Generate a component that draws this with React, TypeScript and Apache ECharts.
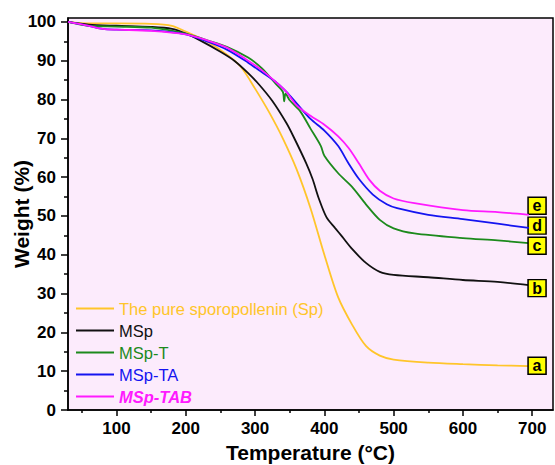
import React, { useEffect, useRef } from "react";
import * as echarts from "echarts";

const seriesNames = ["The pure sporopollenin (Sp)", "MSp", "MSp-T", "MSp-TA", "MSp-TAB"];
const seriesColors = ["#FFC52A", "#111111", "#1C8A1C", "#1414F0", "#FF1AFF"];
const endLetters = ["a", "b", "c", "d", "e"];
const endLabelX = 707;
const endLabelY = [11.4, 31.4, 42.3, 47.5, 52.6];

const spT = [30, 60, 100, 150, 180, 200, 230, 260, 280, 300, 320, 340, 360, 380, 400, 420, 440, 460, 480, 500, 550, 600, 650, 695];
const spW = [100, 99.6, 99.6, 99.5, 99, 97.5, 95, 91.5, 88.3, 82.8, 76.8, 70, 62, 52, 40, 29, 22, 16.5, 14, 13, 12.2, 11.8, 11.5, 11.3];

const mspT = [30, 60, 100, 150, 180, 200, 220, 250, 270, 290, 306, 325, 345, 355, 374, 383, 392, 403, 415, 426, 440, 460, 480, 500, 550, 600, 650, 695];
const mspW = [100, 99.3, 99, 98.7, 98.2, 97, 95.3, 92.3, 90, 86.8, 83.8, 79.6, 74, 70.6, 63.5, 59.5, 54.5, 49.7, 47, 44.6, 41.5, 37.9, 35.6, 34.8, 34.2, 33.5, 33, 32.2];

const mspTT = [30, 60, 100, 150, 200, 230, 260, 290, 310, 330, 340, 342, 344, 350, 365, 380, 395, 400, 420, 440, 460, 480, 500, 530, 600, 650, 695];
const mspTW = [100, 99, 98.8, 98.5, 97, 95.3, 93.5, 90.8, 88, 84, 82, 79.5, 81.5, 79.8, 77, 72.5, 68, 65.5, 61, 57.5, 53, 49, 46.8, 45.5, 44.3, 43.7, 43];

const mspTAT = [30, 60, 80, 100, 150, 200, 230, 260, 290, 310, 330, 345, 360, 380, 400, 420, 435, 450, 470, 490, 505, 550, 600, 650, 695];
const mspTAW = [100, 99, 98.2, 98, 97.8, 96.8, 95, 92.8, 89.5, 87, 84.5, 82, 79, 75, 72, 68, 63.5, 59.5, 55.5, 53, 52, 50.3, 49.2, 48, 46.9];

const mspTABT = [30, 60, 80, 100, 150, 200, 230, 260, 290, 310, 330, 345, 360, 380, 400, 420, 435, 450, 465, 480, 500, 530, 600, 650, 695];
const mspTABW = [100, 99, 98.2, 98, 97.7, 96.8, 95.3, 93.3, 90, 87.5, 84.5, 82, 78.5, 75.8, 73.5, 70.5, 67.5, 63.5, 59.3, 56.5, 54.5, 53.3, 51.5, 51, 50.3];

const xMajor = [100, 200, 300, 400, 500, 600, 700];
const xMinor = [50, 150, 250, 350, 450, 550, 650];
const yMajor = [0, 10, 20, 30, 40, 50, 60, 70, 80, 90, 100];
const yMinor = [5, 15, 25, 35, 45, 55, 65, 75, 85, 95];

const temps = [spT, mspT, mspTT, mspTAT, mspTABT];
const weights = [spW, mspW, mspTW, mspTAW, mspTABW];

const FONT = "Liberation Sans, Arial, sans-serif";

export default function App() {
  const ref = useRef<HTMLDivElement>(null);
  useEffect(() => {
    document.body.style.margin = "0";
    const chart = echarts.init(ref.current!, null, { renderer: "svg" });
    const series = seriesNames.map((name, i) => ({
      name,
      type: "line",
      data: temps[i].map((t, j) => [t, weights[i][j]]),
      symbol: "none",
      smooth: 0.3,
      lineStyle: { color: seriesColors[i], width: 1.8 },
      itemStyle: { color: seriesColors[i] },
      z: 2 + i,
      markPoint: {
        symbol: "rect",
        symbolSize: [18, 17],
        itemStyle: { color: "#FFFF00", borderColor: "#000", borderWidth: 1.5 },
        label: {
          show: true,
          position: "inside",
          formatter: endLetters[i],
          color: "#000",
          fontWeight: "bold",
          fontSize: 16,
          fontFamily: FONT,
        },
        data: [{ coord: [endLabelX, endLabelY[i]] }],
      },
    }));
    const axisLabelStyle = { color: "#000", fontWeight: "bold", fontSize: 17, fontFamily: FONT };
    chart.setOption({
      animation: false,
      backgroundColor: "#fff",
      textStyle: { fontFamily: FONT },
      grid: {
        left: 68,
        top: 18,
        width: 485,
        height: 392,
        containLabel: false,
        outerBoundsMode: "none",
        show: true,
        backgroundColor: "#FCEBFC",
        borderColor: "#000",
        borderWidth: 1.5,
      },
      legend: {
        orient: "vertical",
        left: 71,
        top: 295,
        itemWidth: 38,
        itemHeight: 14,
        itemGap: 5,
        icon: "path://M0,0H40V2H0Z",
        data: seriesNames.map((name, i) => ({
          name,
          textStyle: {
            color: seriesColors[i],
            fontSize: 16.5,
            lineHeight: 14,
            fontFamily: FONT,
            fontWeight: i === 4 ? "bold" : "normal",
            fontStyle: i === 4 ? "italic" : "normal",
          },
        })),
      },
      xAxis: [
        {
          type: "value",
          min: 30,
          max: 730,
          name: "Temperature (°C)",
          nameLocation: "middle",
          nameGap: 32,
          nameMoveOverlap: false,
          nameTextStyle: { color: "#000", fontWeight: "bold", fontSize: 21, fontFamily: FONT },
          axisLine: { show: true, onZero: false, lineStyle: { color: "#000", width: 1.5 } },
          axisTick: { show: true, customValues: xMajor, length: 6, lineStyle: { color: "#000", width: 1.5 } },
          axisLabel: { customValues: xMajor, margin: 10, ...axisLabelStyle },
          splitLine: { show: false },
        },
        {
          type: "value",
          min: 30,
          max: 730,
          position: "bottom",
          axisLine: { show: false },
          axisTick: { show: true, customValues: xMinor, length: 3, lineStyle: { color: "#000", width: 1.5 } },
          axisLabel: { show: false },
          splitLine: { show: false },
        },
      ],
      yAxis: [
        {
          type: "value",
          min: 0,
          max: 101,
          name: "Weight (%)",
          nameLocation: "middle",
          nameGap: 36,
          nameMoveOverlap: false,
          nameRotate: 90,
          nameTextStyle: { color: "#000", fontWeight: "bold", fontSize: 21, fontFamily: FONT },
          axisLine: { show: true, onZero: false, lineStyle: { color: "#000", width: 1.5 } },
          axisTick: { show: true, customValues: yMajor, length: 7, lineStyle: { color: "#000", width: 1.5 } },
          axisLabel: { customValues: yMajor, margin: 12, ...axisLabelStyle },
          splitLine: { show: false },
        },
        {
          type: "value",
          min: 0,
          max: 101,
          position: "left",
          axisLine: { show: false },
          axisTick: { show: true, customValues: yMinor, length: 4, lineStyle: { color: "#000", width: 1.5 } },
          axisLabel: { show: false },
          splitLine: { show: false },
        },
      ],
      series,
    });
    return () => chart.dispose();
  }, []);
  return <div ref={ref} style={{ width: 555, height: 465 }} />;
}
